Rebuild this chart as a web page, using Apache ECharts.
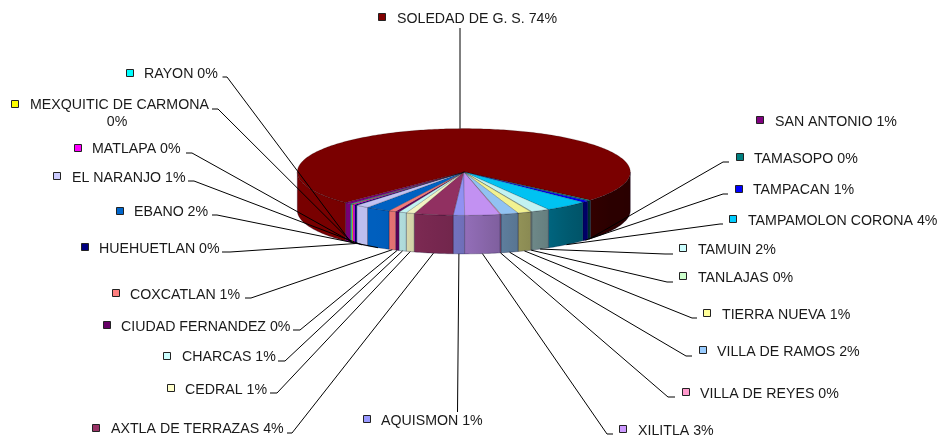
<!DOCTYPE html>
<html>
<head>
<meta charset="utf-8">
<style>html,body{margin:0;padding:0;background:#fff}#c{width:939px;height:437px}</style>
<script src="https://cdn.jsdelivr.net/npm/echarts@6/dist/echarts.min.js"></script>
</head>
<body>
<div id="c"></div>
<script>
// ---- data (percent of the whole) ----
const categories = ['AQUISMON','AXTLA DE TERRAZAS','CEDRAL','CHARCAS','CIUDAD FERNANDEZ','COXCATLAN','EBANO','EL NARANJO','HUEHUETLAN','MATLAPA','MEXQUITIC DE CARMONA','RAYON','SAN ANTONIO','SOLEDAD DE G. S.','TAMASOPO','TAMPACAN','TAMPAMOLON CORONA','TAMUIN','TANLAJAS','TIERRA NUEVA','VILLA DE RAMOS','VILLA DE REYES','XILITLA'];
const shares = [1.1,3.8,0.8,0.75,0.35,0.7,2.4,1.3,0.25,0.25,0.15,0.15,0.65,73.7,0.36,0.7,4.2,1.8,0.1,1.3,1.7,0.1,3.4];

// ---- styling, kept apart from the data ----
const sliceColors = ['#9999ff','#993366','#ffffcc','#ccffff','#660066','#ff8080','#0066cc','#ccccff','#000080','#ff00ff','#ffff00','#00ffff','#800080','#800000','#008080','#0000ff','#00ccff','#ccffff','#ccffcc','#ffff99','#99ccff','#ff99cc','#cc99ff'];
// [marker x, marker y, text x, text y, elbow near x, elbow far x, elbow y]  (elbow null = no leader)
const labelLayout = [
 [367,419,381,421,457.5,457.5,412],
 [96,428,111,429,287,292,433],
 [171,388,185,390,270,277,393],
 [167,356,182,357,278,285,361],
 [107,325,121,327,293,300,330],
 [116,293,130,295,245,251,298],
 [120,211,134,212,212,217,215],
 [57,176,72,178,188,194,181],
 [85,247,99,249,222,230,252],
 [78,148,92,149,186,192,153],
 [15,104,30,105,212,218,109],
 [130,73,144,74,222.5,227,77],
 [760,120,775,122,null,null,null],
 [382,17,397,19,460,460,28],
 [740,157,754,159,729,723,162],
 [739,189,753,190,728,723,194],
 [733,219,748,221,723,720,224],
 [683,248,698,250,673,665,254],
 [683,276,698,278,673,667,282],
 [707,313,722,315,697,692,318],
 [703,350,717,352,692,686,356],
 [686,392,700,394,675,668,397],
 [623,429,638,431,613,607,434]
];
const pie = {cx:463.8, cy:172, rx:166.5, ry:43.4, depth:38.5, start:-0.3};
const sideShade = [[-135,.30],[-60,.34],[-37,.45],[-15,.60],[2,.74],[15,.80],[30,.93],[135,.95]];
const font = '14.2px "Liberation Sans", Arial, sans-serif';

const total = shares.reduce((a,b)=>a+b,0);
let run = pie.start;
const spans = shares.map(v=>{const a=run; run+=v/total*360; return [a,run];});

const rad = d=>d*Math.PI/180;
const px = d=>pie.cx - pie.rx*Math.sin(rad(d));
const py = (d,h)=>pie.cy + pie.ry*Math.cos(rad(d)) + (h||0);
function arc(a,b,h){const n=Math.max(2,Math.ceil(Math.abs(b-a))+1),p=[];
  for(let i=0;i<n;i++){const d=a+(b-a)*i/(n-1);p.push([px(d),py(d,h)]);}return p;}
function toRgb(h){return [1,3,5].map(i=>parseInt(h.substr(i,2),16));}
function mul(h,f){const c=toRgb(h).map(x=>Math.round(x*f));return 'rgb('+c.join(',')+')';}
function shadeAt(d){let x=((d+180)%360+360)%360-180;
  for(let i=1;i<sideShade.length;i++){const A=sideShade[i-1],B=sideShade[i];
    if(x<=B[0]){const t=Math.max(0,(x-A[0])/(B[0]-A[0]));return A[1]+(B[1]-A[1])*t;}}
  return sideShade[sideShade.length-1][1];}
function visible(a,b){const r=[];[[-90,90],[270,450]].forEach(w=>{const s=Math.max(a,w[0]),e=Math.min(b,w[1]);if(e>s)r.push([s,e]);});return r;}

function renderSide(params){
  const i=params.dataIndex, s=spans[i], children=[];
  visible(s[0],s[1]).forEach(v=>{
    const pts=arc(v[0],v[1],0).concat(arc(v[1],v[0],pie.depth));
    const x0=px(v[0]),x1=px(v[1]),stops=[];
    const n=Math.max(2,Math.ceil((v[1]-v[0])/3)+1);
    for(let k=0;k<n;k++){const d=v[0]+(v[1]-v[0])*k/(n-1);
      stops.push({offset:Math.abs(x1-x0)<.01?k/(n-1):(px(d)-x0)/(x1-x0),color:mul(sliceColors[i],shadeAt(d))});}
    children.push({type:'polygon',shape:{points:pts},silent:true,
      style:{fill:new echarts.graphic.LinearGradient(x0,0,x1,0,stops,true),stroke:'rgba(0,0,40,0.4)',lineWidth:0.7}});
  });
  return {type:'group',children};
}
function renderTop(params){
  const i=params.dataIndex,s=spans[i];
  return {type:'polygon',silent:true,shape:{points:[[pie.cx,pie.cy]].concat(arc(s[0],s[1],0))},
    style:{fill:mul(sliceColors[i],.95),stroke:'rgba(0,0,0,0.3)',lineWidth:0.6}};
}
function renderLabel(params){
  const i=params.dataIndex,L=labelLayout[i],s=spans[i],mid=(s[0]+s[1])/2,children=[];
  const pct=Math.round(shares[i]/total*100)+'%';
  children.push({type:'rect',silent:true,shape:{x:L[0]-3.5,y:L[1]-3.5,width:7,height:7},
    style:{fill:sliceColors[i],stroke:'#222',lineWidth:1}});
  if(categories[i]==='MEXQUITIC DE CARMONA'){
    children.push({type:'text',silent:true,style:{x:L[2],y:L[3],text:categories[i],font,fill:'#1a1a1a',verticalAlign:'middle'}});
    children.push({type:'text',silent:true,style:{x:117,y:L[3]+17,text:pct,font,fill:'#1a1a1a',align:'center',verticalAlign:'middle'}});
  } else {
    children.push({type:'text',silent:true,style:{x:L[2],y:L[3],text:categories[i]+' '+pct,font,fill:'#1a1a1a',verticalAlign:'middle'}});
  }
  if(L[4]!==null){
    const back=Math.cos(rad(mid))<0;
    const end=back?[L[4],py(mid,0)]:[px(mid),py(mid,pie.depth)];
    children.push({type:'polyline',silent:true,shape:{points:[[L[4],L[6]],[L[5],L[6]],end]},
      style:{fill:null,stroke:'#000',lineWidth:1}});
  }
  return {type:'group',children};
}
const rows=shares.map((v,i)=>[i,v]);
const chart=echarts.init(document.getElementById('c'),null,{width:939,height:437});
chart.setOption({
  animation:false,
  backgroundColor:'#fff',
  series:[
    {type:'custom',name:'side',coordinateSystem:'none',z:1,silent:true,data:rows,renderItem:renderSide},
    {type:'custom',name:'top',coordinateSystem:'none',z:2,silent:true,data:rows,renderItem:renderTop},
    {type:'custom',name:'labels',coordinateSystem:'none',z:3,silent:true,data:rows,renderItem:renderLabel}
  ]
});
</script>
</body>
</html>
